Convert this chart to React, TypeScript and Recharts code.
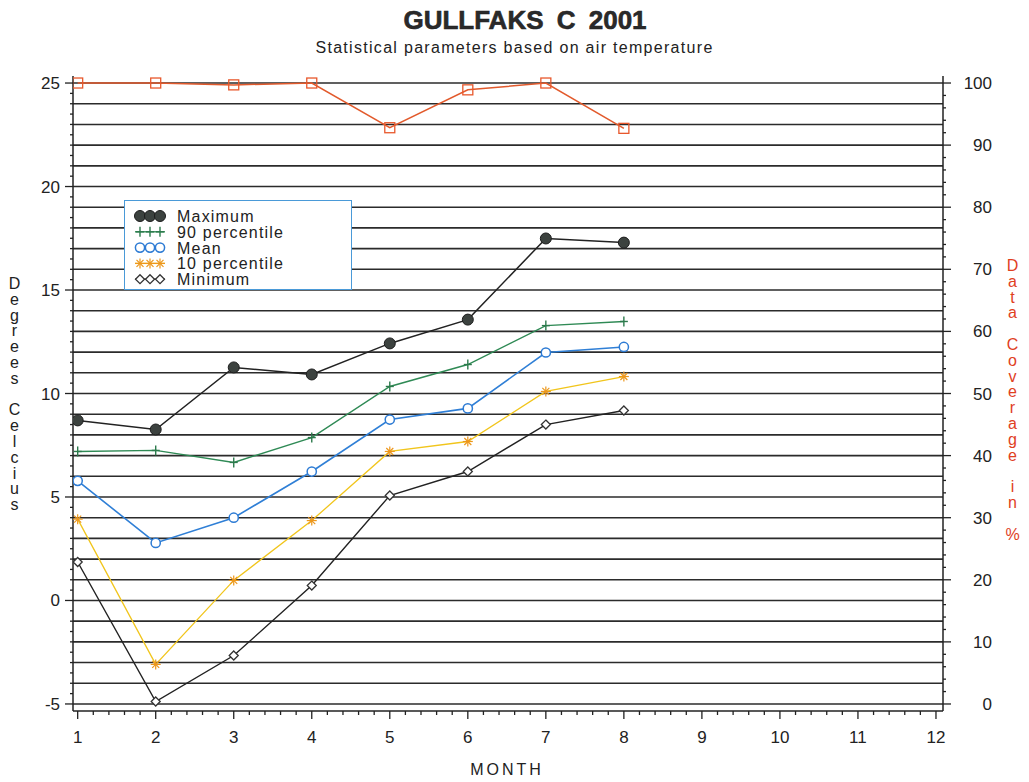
import React from "react";
import { ComposedChart, Line, XAxis, YAxis, ReferenceLine } from "recharts";

// values
const months = [1, 2, 3, 4, 5, 6, 7, 8];
const maximum = [8.7, 8.26, 11.26, 10.92, 12.42, 13.57, 17.49, 17.29];
const p90 = [7.2, 7.25, 6.67, 7.87, 10.34, 11.4, 13.28, 13.48];
const mean = [5.78, 2.78, 4.0, 6.23, 8.74, 9.28, 11.98, 12.25];
const p10 = [3.93, -3.09, 0.97, 3.86, 7.2, 7.68, 10.1, 10.82];
const minimum = [1.86, -4.88, -2.66, 0.72, 5.07, 6.23, 8.5, 9.18];
const coverage = [100, 100, 99.7, 100, 92.8, 98.9, 100, 92.7];

const monthTicks = [1, 2, 3, 4, 5, 6, 7, 8, 9, 10, 11, 12];
const degLabels = [-5, 0, 5, 10, 15, 20, 25];
const pctLabels = [0, 10, 20, 30, 40, 50, 60, 70, 80, 90, 100];

const W = 1029;
const H = 782;
const PLOT_LEFT = 73;
const PLOT_RIGHT = 943;
const PLOT_TOP = 76;
const PLOT_BOTTOM = 711;
const FONT = "'Liberation Sans', Arial, Helvetica, sans-serif";

const data = months.map((m, i) => ({
  month: m,
  max: maximum[i],
  p90: p90[i],
  mean: mean[i],
  p10: p10[i],
  min: minimum[i],
  cov: coverage[i],
}));

// tick positions (minor ticks between the labelled ones)
const xTicks = monthTicks.flatMap((m) => (m < 12 ? [0, 0.2, 0.4, 0.6, 0.8].map((f) => +(m + f).toFixed(1)) : [m]));
const degTicks = Array.from({ length: 61 }, (_, i) => -5 + i * 0.5);
const gridDeg = Array.from({ length: 31 }, (_, i) => -5 + i);
const pctTicks = Array.from({ length: 51 }, (_, i) => i * 2);

const FilledCircle = ({ cx, cy }: any) => (
  <circle cx={cx} cy={cy} r={5.5} fill="#3c423f" stroke="#1c1c1c" strokeWidth={1} />
);
const Plus = ({ cx, cy }: any) => (
  <g stroke="#2c7a4c" strokeWidth={1.4}>
    <line x1={cx} x2={cx} y1={cy - 5} y2={cy + 5} />
    <line x1={cx - 4} x2={cx + 4} y1={cy} y2={cy} />
  </g>
);
const OpenCircle = ({ cx, cy }: any) => (
  <circle cx={cx} cy={cy} r={4.6} fill="#fff" stroke="#2d7bd4" strokeWidth={1.5} />
);
const Star = ({ cx, cy }: any) => (
  <g stroke="#ec971c" strokeWidth={1.2}>
    <line x1={cx} x2={cx} y1={cy - 5} y2={cy + 5} />
    <line x1={cx - 5} x2={cx + 5} y1={cy} y2={cy} />
    <line x1={cx - 3.5} x2={cx + 3.5} y1={cy - 3.5} y2={cy + 3.5} />
    <line x1={cx - 3.5} x2={cx + 3.5} y1={cy + 3.5} y2={cy - 3.5} />
  </g>
);
const Diamond = ({ cx, cy }: any) => (
  <polygon
    points={`${cx},${cy - 4.5} ${cx + 4.5},${cy} ${cx},${cy + 4.5} ${cx - 4.5},${cy}`}
    fill="#fff"
    stroke="#333"
    strokeWidth={1.3}
  />
);
const Square = ({ cx, cy }: any) => (
  <rect x={cx - 5} y={cy - 5} width={10} height={10} fill="none" stroke="#e8582c" strokeWidth={1.3} />
);

const series = [
  { key: "max", name: "Maximum", color: "#222", width: 1.5, Shape: FilledCircle },
  { key: "p90", name: "90 percentile", color: "#2f8a55", width: 1.4, Shape: Plus },
  { key: "mean", name: "Mean", color: "#2f7fd6", width: 1.6, Shape: OpenCircle },
  { key: "p10", name: "10 percentile", color: "#f1c51c", width: 1.3, Shape: Star },
  { key: "min", name: "Minimum", color: "#222", width: 1.4, Shape: Diamond },
];

const XTick = ({ x, payload }: any) => {
  const v = payload.value;
  const major = Number.isInteger(v);
  return (
    <g>
      <line x1={x} x2={x} y1={PLOT_BOTTOM} y2={PLOT_BOTTOM + (major ? 8 : 4)} stroke="#222" strokeWidth={1.3} />
      {major && (
        <text x={x} y={743} textAnchor="middle" fontSize={17} fill="#222" fontFamily={FONT}>
          {v}
        </text>
      )}
    </g>
  );
};

const LeftTick = ({ y, payload }: any) => {
  const v = payload.value;
  const major = degLabels.includes(v);
  return (
    <g>
      <line x1={PLOT_LEFT - (major ? 8 : 3)} x2={PLOT_LEFT} y1={y} y2={y} stroke="#222" strokeWidth={1.3} />
      {major && (
        <text x={60} y={y + 6} textAnchor="end" fontSize={17} fill="#222" fontFamily={FONT}>
          {v}
        </text>
      )}
    </g>
  );
};

const RightTick = ({ y, payload }: any) => {
  const v = payload.value;
  const major = pctLabels.includes(v);
  return (
    <g>
      <line x1={PLOT_RIGHT} x2={PLOT_RIGHT + (major ? 8 : 3)} y1={y} y2={y} stroke="#222" strokeWidth={1.3} />
      {major && (
        <text x={992} y={y + 6} textAnchor="end" fontSize={17} fill="#222" fontFamily={FONT}>
          {v}
        </text>
      )}
    </g>
  );
};

// letters stacked one above the other, upright
const Stacked = ({ text, cx, top, color }: { text: string; cx: number; top: number; color: string }) => (
  <div
    style={{
      position: "absolute",
      left: cx - 8,
      top,
      width: 16,
      writingMode: "vertical-lr",
      textOrientation: "upright",
      lineHeight: "16px",
      letterSpacing: "-1.2px",
      fontFamily: FONT,
      fontSize: 16,
      color,
      whiteSpace: "pre",
    }}
  >
    {text}
  </div>
);

const LegendBox = () => (
  <div
    style={{
      position: "absolute",
      left: 124,
      top: 200,
      width: 228,
      height: 90,
      border: "1.5px solid #4a9ad8",
      background: "#fff",
      boxSizing: "border-box",
    }}
  >
    <svg width={228} height={90} style={{ position: "absolute", left: -1.5, top: -1.5 }}>
      {series.map((s, i) => {
        const cy = 16 + i * 15.8;
        return (
          <g key={s.key}>
            <line x1={11} x2={41} y1={cy} y2={cy} stroke={s.color} strokeWidth={s.width} />
            {[16, 26, 36].map((cx) => (
              <s.Shape key={cx} cx={cx} cy={cy} />
            ))}
            <text x={53} y={cy + 6} fontSize={16} fill="#222" fontFamily={FONT} letterSpacing={1.2}>
              {s.name}
            </text>
          </g>
        );
      })}
    </svg>
  </div>
);

export default function App() {
  return (
    <div style={{ position: "absolute", left: 0, top: 0, width: W, height: H, background: "#fff" }}>
      <ComposedChart
        width={W}
        height={H}
        data={data}
        margin={{ top: PLOT_TOP, right: 0, bottom: 0, left: 0 }}
      >
        <XAxis
          dataKey="month"
          type="number"
          domain={[0.94, 12.09]}
          allowDataOverflow
          ticks={xTicks}
          interval={0}
          height={H - PLOT_BOTTOM}
          tickLine={false}
          axisLine={{ stroke: "#222", strokeWidth: 1.5 }}
          tick={<XTick />}
        />
        <YAxis
          yAxisId="deg"
          orientation="left"
          width={PLOT_LEFT}
          domain={[-5.34, 25.34]}
          allowDataOverflow
          ticks={degTicks}
          interval={0}
          tickLine={false}
          axisLine={{ stroke: "#222", strokeWidth: 1.5 }}
          tick={<LeftTick />}
        />
        <YAxis
          yAxisId="pct"
          orientation="right"
          width={W - PLOT_RIGHT}
          domain={[-1.13, 101.13]}
          allowDataOverflow
          ticks={pctTicks}
          interval={0}
          tickLine={false}
          axisLine={{ stroke: "#222", strokeWidth: 1.5 }}
          tick={<RightTick />}
        />
        {gridDeg.map((d) => (
          <ReferenceLine key={d} yAxisId="deg" y={d} stroke="#2b2b2b" strokeWidth={1.6} />
        ))}
        <Line
          yAxisId="pct"
          dataKey="cov"
          stroke="#e25a2c"
          strokeWidth={1.5}
          isAnimationActive={false}
          dot={(p: any) => <Square key={p.index} cx={p.cx} cy={p.cy} />}
          activeDot={false}
        />
        {series.map((s) => (
          <Line
            key={s.key}
            yAxisId="deg"
            dataKey={s.key}
            name={s.name}
            stroke={s.color}
            strokeWidth={s.width}
            isAnimationActive={false}
            dot={(p: any) => <s.Shape key={p.index} cx={p.cx} cy={p.cy} />}
            activeDot={false}
          />
        ))}
      </ComposedChart>

      <div
        style={{
          position: "absolute",
          left: 0,
          top: 5,
          width: 1050,
          textAlign: "center",
          fontFamily: FONT,
          fontWeight: 700,
          fontSize: 26,
          color: "#2a2a2a",
          WebkitTextStroke: "0.6px #222",
          wordSpacing: 6,
        }}
      >
        GULLFAKS C 2001
      </div>
      <div
        style={{
          position: "absolute",
          left: 0,
          top: 39,
          width: 1029,
          textAlign: "center",
          fontFamily: FONT,
          fontSize: 16,
          color: "#222",
          letterSpacing: 1.3,
        }}
      >
        Statistical parameters based on air temperature
      </div>
      <div
        style={{
          position: "absolute",
          left: 407,
          top: 761,
          width: 200,
          textAlign: "center",
          fontFamily: FONT,
          fontSize: 16,
          color: "#222",
          letterSpacing: 3,
        }}
      >
        MONTH
      </div>
      <Stacked text="Degrees Celcius" cx={14} top={275} color="#222" />
      <Stacked text="Data Coverage in %" cx={1012} top={257} color="#e0401e" />
      <LegendBox />
    </div>
  );
}
